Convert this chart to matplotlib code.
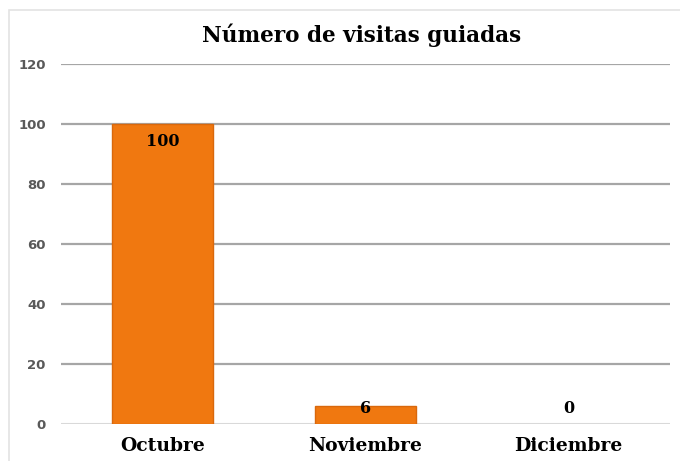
import matplotlib.pyplot as plt
from matplotlib.patches import Rectangle

# data
meses = ['Octubre', 'Noviembre', 'Diciembre']
visitas = [100, 6, 0]
yticks = [0, 20, 40, 60, 80, 100, 120]

plt.rcParams['font.family'] = ['DejaVu Serif']

fig = plt.figure(figsize=(6.8, 4.61), dpi=100)

# light chart border (top/left visible only)
fig.patches.append(Rectangle((9 / 680, -0.1), 1.2, 1 - 10 / 461 + 0.1,
                             transform=fig.transFigure, fill=False,
                             edgecolor='#E3E3E3', linewidth=1.2))

ax = fig.add_axes([61 / 680, 1 - 424 / 461, 609 / 680, 360 / 461])
ax.set_xlim(-0.5, 2.5)
ax.set_ylim(0, 120)

for y in yticks[1:]:
    ax.axhline(y, color='#A6A6A6', linewidth=1.6, zorder=0)
ax.axhline(0, color='#D9D9D9', linewidth=1.5, zorder=0)

lw = [1.0 if v > 0 else 0 for v in visitas]
bars = ax.bar(range(len(meses)), visitas, width=0.5, color='#F07810',
              edgecolor='#D9680C', linewidth=lw, zorder=2)

# labels: inside end, but kept above the axis for small bars
for i, v in enumerate(visitas):
    ax.text(i, max(v - 5.7, 5.3), str(v), ha='center', va='center',
            fontsize=11.5, fontweight='bold', color='black', zorder=3)

for s in ax.spines.values():
    s.set_visible(False)

ax.set_yticks(yticks)
ax.set_yticklabels([str(t) for t in yticks], fontsize=9.5, fontweight='bold',
                   color='#595959', fontfamily='DejaVu Sans')
ax.set_xticks(range(len(meses)))
ax.set_xticklabels(meses, fontsize=13.5, fontweight='bold', color='black')
ax.tick_params(axis='both', length=0)
ax.tick_params(axis='y', pad=11)
ax.tick_params(axis='x', pad=9)

fig.text(362 / 680, 1 - 35 / 461, 'Número de visitas guiadas', ha='center',
         va='center', fontsize=15.5, fontweight='bold', color='black')

fig.savefig('out.png', dpi=100)
